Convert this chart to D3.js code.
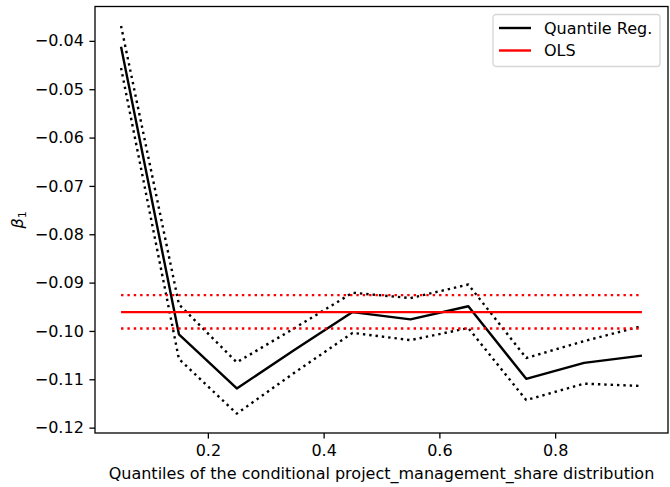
<!DOCTYPE html>
<html>
<head>
<meta charset="utf-8">
<script src="https://cdn.jsdelivr.net/npm/d3@7"></script>
<style>
  body { margin: 0; background: #fff; }
  svg { display: block; }
  text { font-family: "DejaVu Sans", sans-serif; }
</style>
</head>
<body>
<svg id="chart"></svg>
<script>
// quantiles and estimates
var quantiles = [0.05, 0.15, 0.25, 0.35, 0.45, 0.55, 0.65, 0.75, 0.85, 0.95];
var qrCoef  = [-0.0412, -0.1007, -0.1119, -0.1039, -0.0961, -0.0976, -0.0949, -0.1099, -0.1066, -0.1051];
var qrUpper = [-0.0369, -0.0945, -0.1065, -0.0994, -0.0921, -0.0932, -0.0904, -0.1056, -0.1021, -0.0990];
var qrLower = [-0.0456, -0.1058, -0.1171, -0.1086, -0.1004, -0.1019, -0.0994, -0.1143, -0.1109, -0.1114];
var olsCoef = -0.0961;
var olsUpper = -0.0926;
var olsLower = -0.0995;
var xTicks = [0.2, 0.4, 0.6, 0.8];
var yTicks = [-0.12, -0.11, -0.10, -0.09, -0.08, -0.07, -0.06, -0.05, -0.04];

var width = 670;
var height = 487;
var margin = {top: 6.5, right: 2, bottom: 54, left: 95};
var innerWidth = width - margin.left - margin.right;
var innerHeight = height - margin.top - margin.bottom;
var fontSize = '16px';

var svg = d3.select('#chart')
    .attr('width', width)
    .attr('height', height);

// matplotlib style 5% padding around the data
function padded(ext) {
    var pad = (ext[1] - ext[0]) * 0.05;
    return [ext[0] - pad, ext[1] + pad];
}

var xScale = d3.scaleLinear()
    .domain(padded(d3.extent(quantiles)))
    .range([0, innerWidth]);
var allY = qrCoef.concat(qrUpper, qrLower, [olsCoef, olsUpper, olsLower]);
var yScale = d3.scaleLinear()
    .domain(padded(d3.extent(allY)))
    .range([innerHeight, 0]);

var g = svg.append('g')
    .attr('transform', `translate(${margin.left},${margin.top})`);

var lineGen = d3.line()
    .x((d, i) => xScale(quantiles[i]))
    .y(d => yScale(d));

var dotted = '2.4,3.96';

function drawLine(values, color, dash) {
    g.append('path')
        .datum(values)
        .attr('d', lineGen)
        .attr('fill', 'none')
        .attr('stroke', color)
        .attr('stroke-width', 2.4)
        .attr('stroke-linejoin', 'round')
        .attr('stroke-dasharray', dash);
}

drawLine(qrCoef, '#000', null);
drawLine(qrUpper, '#000', dotted);
drawLine(qrLower, '#000', dotted);
drawLine(quantiles.map(() => olsCoef), '#ff0000', null);
drawLine(quantiles.map(() => olsUpper), '#ff0000', dotted);
drawLine(quantiles.map(() => olsLower), '#ff0000', dotted);

// axes
var xAxis = g.append('g')
    .attr('transform', `translate(0,${innerHeight})`)
    .call(d3.axisBottom(xScale).tickValues(xTicks).tickFormat(d3.format('.1f')).tickSizeOuter(0).tickSize(5.6).tickPadding(5.6));
var yAxis = g.append('g')
    .call(d3.axisLeft(yScale).tickValues(yTicks).tickFormat(d3.format('.2f')).tickSizeOuter(0).tickSize(5.6).tickPadding(5.6));

[xAxis, yAxis].forEach(ax => {
    ax.attr('font-family', null).attr('font-size', null);
    ax.select('.domain').remove();
    ax.selectAll('line').attr('stroke', '#000').attr('stroke-width', 1.3);
    ax.selectAll('text').attr('fill', '#000').style('font-size', fontSize);
});

// frame
g.append('rect')
    .attr('width', innerWidth)
    .attr('height', innerHeight)
    .attr('fill', 'none')
    .attr('stroke', '#000')
    .attr('stroke-width', 1.3);

// axis labels
svg.append('text')
    .attr('x', margin.left + innerWidth / 2)
    .attr('y', 479)
    .attr('text-anchor', 'middle')
    .style('font-size', fontSize)
    .text('Quantiles of the conditional project_management_share distribution');

var yl = svg.append('text')
    .attr('transform', `translate(23,${margin.top + innerHeight / 2}) rotate(-90)`)
    .attr('text-anchor', 'middle')
    .style('font-size', fontSize)
    .style('font-style', 'italic');
yl.append('tspan').text('\u03b2');
yl.append('tspan').attr('dy', 3).style('font-size', '11.2px').style('font-style', 'normal').text('1');

// legend
var legendItems = [{name: 'Quantile Reg.', color: '#000'}, {name: 'OLS', color: '#ff0000'}];
var lg = svg.append('g').attr('transform', 'translate(493,14.5)');
lg.append('rect')
    .attr('width', 167)
    .attr('height', 52)
    .attr('rx', 3)
    .attr('fill', '#fff')
    .attr('fill-opacity', 0.8)
    .attr('stroke', '#d6d6d6')
    .attr('stroke-width', 1.3);
legendItems.forEach((d, i) => {
    var y = 13.5 + i * 22.5;
    lg.append('line')
        .attr('x1', 6).attr('x2', 38)
        .attr('y1', y).attr('y2', y)
        .attr('stroke', d.color)
        .attr('stroke-width', 2.4);
    lg.append('text')
        .attr('x', 51)
        .attr('y', y + 5.8)
        .style('font-size', fontSize)
        .text(d.name);
});
</script>
</body>
</html>
